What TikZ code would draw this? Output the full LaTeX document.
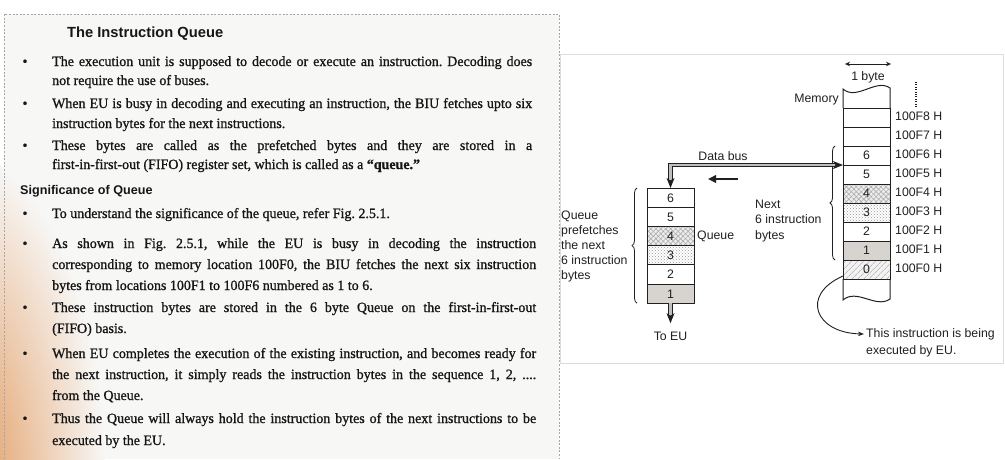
\documentclass[tikz,border=0pt]{standalone}
\usepackage{fontspec}
\setmainfont{Liberation Serif}[FakeBold=1,FakeStretch=0.985]
\newfontfamily\diafont{Liberation Sans}
\usetikzlibrary{patterns,patterns.meta,decorations.pathreplacing,arrows.meta,calc}
\definecolor{ink}{HTML}{161616}
\definecolor{lineink}{HTML}{202020}
\definecolor{paper}{HTML}{F7F7F6}
\definecolor{tanc}{RGB}{224,146,82}
\definecolor{cellgray}{RGB}{215,211,207}
\definecolor{framec}{HTML}{DCDCDC}
\frenchspacing
\begin{document}
\begin{tikzpicture}[x=1pt,y=-1pt,
  body/.style={font=\fontsize{14.2}{16}\selectfont, text=ink, inner sep=0pt, anchor=base west},
  bul/.style={font=\fontsize{14.2}{16}\selectfont, text=ink, inner sep=0pt, anchor=base},
  head/.style={font=\diafont\bfseries\fontsize{12.6}{15}\selectfont, text=ink, inner sep=0pt, anchor=base west},
  ttl/.style={font=\diafont\bfseries\fontsize{14.7}{17}\selectfont, text=ink, inner sep=0pt, anchor=base west},
  lab/.style={font=\diafont\fontsize{12.3}{15}\selectfont, text=lineink, inner sep=0pt, text height=8.8pt, text depth=2.5pt},
  cell/.style={draw=lineink, line width=1pt, minimum width=47pt, minimum height=19pt, inner sep=0pt, outer sep=0pt, anchor=north west, font=\diafont\fontsize{12.3}{15}\selectfont, text=lineink, text height=8.8pt, text depth=0pt},
  qcell/.style={cell, minimum height=19.2pt},
  pat4/.style={preaction={fill=gray!14}, preaction={pattern={Lines[angle=45,distance=3.5pt,line width=0.6pt]}, pattern color=gray!65}, pattern={Lines[angle=-45,distance=3.5pt,line width=0.6pt]}, pattern color=gray!65},
  pat3/.style={preaction={fill=white}, pattern=crosshatch dots, pattern color=gray!80},
  pat1/.style={fill=cellgray},
  pat0/.style={preaction={fill=gray!10}, pattern={Lines[angle=45,distance=4pt,line width=0.5pt]}, pattern color=gray!75},
  wire/.style={draw=lineink, line width=1pt},
  rail/.style={draw=lineink, line width=0.9pt},
  band/.style={fill=gray!50},
  headfill/.style={fill=lineink},
  bracestyle/.style={draw=lineink, line width=0.8pt, decorate, decoration={brace, amplitude=5pt}}
]
\useasboundingbox (0,0) rectangle (1005,459);
\fill[white] (0,0) rectangle (1005,459);
\fill[paper] (4,14) rectangle (559,459);
\begin{scope}
  \clip (0,14) rectangle (559,459);
  \shade[inner color=tanc, outer color=paper] (-45,480) ellipse (150 and 330);
\end{scope}
\draw[gray!70, line width=0.7pt, dash pattern=on 2pt off 1.6pt] (4,459) -- (4,14) -- (559,14) -- (559,459);

% ---------------- left text ----------------
\node[ttl] (title) at (67,37.5) {The Instruction Queue};

\node[bul] (b1) at (25,66) {•};
\node[body] (t1) at (52,66) {\makebox[480pt][s]{The execution unit is supposed to decode or execute an instruction. Decoding does}};
\node[body] (t2) at (52,85) {not require the use of buses.};
\node[bul] (b2) at (25,108) {•};
\node[body] (t3) at (52,108) {\makebox[480pt][s]{When EU is busy in decoding and executing an instruction, the BIU fetches upto six}};
\node[body] (t4) at (52,128) {instruction bytes for the next instructions.};
\node[bul] (b3) at (25,150) {•};
\node[body] (t5) at (52,150) {\makebox[480pt][s]{These bytes are called as the prefetched bytes and they are stored in a}};
\node[body] (t6) at (52,169) {first-in-first-out (FIFO) register set, which is called as a \textbf{“queue.”}};

\node[head] (sig) at (20,194.5) {Significance of Queue};

\node[bul] (b4) at (25,218) {•};
\node[body] (t8) at (52,218) {To understand the significance of the queue, refer Fig. 2.5.1.};
\node[bul] (b5) at (25,248) {•};
\node[body] (t9) at (52,248) {\makebox[484pt][s]{As shown in Fig. 2.5.1, while the EU is busy in decoding the instruction}};
\node[body] (t10) at (52,269) {\makebox[484pt][s]{corresponding to memory location 100F0, the BIU fetches the next six instruction}};
\node[body] (t11) at (52,290) {bytes from locations 100F1 to 100F6 numbered as 1 to 6.};
\node[bul] (b6) at (25,312) {•};
\node[body] (t12) at (52,312) {\makebox[484pt][s]{These instruction bytes are stored in the 6 byte Queue on the first-in-first-out}};
\node[body] (t13) at (52,333) {(FIFO) basis.};
\node[bul] (b7) at (25,358) {•};
\node[body] (t14) at (52,358) {\makebox[484pt][s]{When EU completes the execution of the existing instruction, and becomes ready for}};
\node[body] (t15) at (52,379) {\makebox[484pt][s]{the next instruction, it simply reads the instruction bytes in the sequence 1, 2, ....}};
\node[body] (t16) at (52,400) {from the Queue.};
\node[bul] (b8) at (25,423) {•};
\node[body] (t17) at (52,423) {\makebox[484pt][s]{Thus the Queue will always hold the instruction bytes of the next instructions to be}};
\node[body] (t18) at (52,445) {executed by the EU.};

% ---------------- right panel ----------------
\fill[white] (560,54) rectangle (1003,363);
\draw[framec, line width=0.8pt] (560,54) rectangle (1003,363);

% memory column
\node[cell] (mF8) at (843,108) {};
\node[cell] (mF7) at (843,127) {};
\node[cell] (m6) at (843,146) {6};
\node[cell] (m5) at (843,165) {5};
\node[cell, pat4] (m4) at (843,184) {4};
\node[cell, pat3] (m3) at (843,203) {3};
\node[cell] (m2) at (843,222) {2};
\node[cell, pat1] (m1) at (843,241) {1};
\node[cell, pat0] (m0) at (843,260) {0};
\coordinate (mtl) at ($(mF8.north west)+(0,-19)$);
\coordinate (mtr) at ($(mF8.north east)+(0,-20)$);
\coordinate (mbl) at ($(m0.south west)+(0,21)$);
\coordinate (mbr) at ($(m0.south east)+(0,20)$);
\draw[wire] (mF8.north west) -- (mtl) .. controls +(14,12) and +(-14,-10) .. (mtr) -- (mF8.north east);
\draw[wire] (m0.south west) -- (mbl) .. controls +(14,-12) and +(-14,10) .. (mbr) -- (m0.south east);

% addresses
\foreach \n/\a in {mF8/100F8 H, mF7/100F7 H, m6/100F6 H, m5/100F5 H, m4/100F4 H, m3/100F3 H, m2/100F2 H, m1/100F1 H, m0/100F0 H}
  \node[lab, anchor=west] (a\n) at ($(\n.east)+(5,0)$) {\a};

\node[lab, anchor=east] (memlab) at ($(mF8.north west)+(-4,-9)$) {Memory};

% 1 byte
\coordinate (byL) at ($(mtl)+(2,-25)$);
\coordinate (byR) at ($(mtr)+(1,-24)$);
\draw[lineink, line width=0.8pt, {Stealth[length=5pt,width=4.5pt]}-{Stealth[length=5pt,width=4.5pt]}] (byL) -- (byR);
\node[lab] (bytelab) at ($(byL)!0.5!(byR)+(0,13)$) {1 byte};

% dotted continuation
\coordinate (dotT) at (916,82);
\coordinate (dotB) at (916,107);
\draw[lineink, line width=1.3pt, dash pattern=on 1pt off 1.4pt] (dotT) -- (dotB);

% queue column
\node[qcell] (q6) at (647,188) {6};
\node[qcell] (q5) at (647,207.2) {5};
\node[qcell, pat4] (q4) at (647,226.4) {4};
\node[qcell, pat3] (q3) at (647,245.6) {3};
\node[qcell] (q2) at (647,264.8) {2};
\node[qcell, pat1] (q1) at (647,284) {1};
\node[lab, anchor=west] (queuelab) at ($(q4.east)+(3,0)$) {Queue};

% braces
\draw[bracestyle] ($(q1.south west)+(-10,0)$) -- ($(q6.north west)+(-10,0)$);
\draw[bracestyle] ($(m1.south west)+(-8,0)$) -- ($(m6.north west)+(-8,0)$);

% left labels
\node[lab, anchor=west] (ql1) at (561,216) {Queue};
\node[lab, anchor=west] (ql2) at (561,231.2) {prefetches};
\node[lab, anchor=west] (ql3) at (561,246.4) {the next};
\node[lab, anchor=west] (ql4) at (561,261.6) {6 instruction};
\node[lab, anchor=west] (ql5) at (561,276.8) {bytes};

% next labels
\node[lab, anchor=west] (nl1) at (755,205) {Next};
\node[lab, anchor=west] (nl2) at (755,220.5) {6 instruction};
\node[lab, anchor=west] (nl3) at (755,236) {bytes};

% data bus (double rail from memory row 6/5 boundary to queue top)
\node[lab] (buslab) at (723,157) {Data bus};
\coordinate (busC) at (q6.north |- m6.south west);
\fill[band] ($(m6.south west)+(-8,-1.9)$) -- ($(busC)+(-1.9,-1.9)$) -- ($(q6.north)+(-1.9,-7)$) -- ($(q6.north)+(1.9,-7)$) -- ($(busC)+(1.9,1.9)$) -- ($(m6.south west)+(-8,1.9)$) -- cycle;
\draw[rail] ($(m6.south west)+(-8,-1.9)$) -- ($(busC)+(-1.9,-1.9)$) -- ($(q6.north)+(-1.9,-7)$);
\draw[rail] ($(m6.south west)+(-8,1.9)$) -- ($(busC)+(1.9,1.9)$) -- ($(q6.north)+(1.9,-7)$);
\fill[headfill] (m6.south west) -- ++(-10,-4) -- ++(2.5,4) -- ++(-2.5,4) -- cycle;
\fill[headfill] (q6.north) -- ++(-4,-10) -- ++(4,2.5) -- ++(4,-2.5) -- cycle;

% direction arrow
\coordinate (sa1) at (738,179);
\coordinate (sa2) at (708,179);
\draw[lineink, line width=2.2pt, -{Triangle[length=8pt,width=7.5pt]}] (sa1) -- (sa2);

% to EU
\node[lab] (toeu) at ($(q1.south)+(0,34)$) {To EU};
\coordinate (euTip) at ($(q1.south)+(0,20)$);
\fill[band] ($(q1.south)+(-1.9,0)$) rectangle ($(q1.south)+(1.9,12.5)$);
\draw[rail] ($(q1.south)+(-1.9,0)$) -- ++(0,12.5);
\draw[rail] ($(q1.south)+(1.9,0)$) -- ++(0,12.5);
\fill[headfill] (euTip) -- ++(-4,-10) -- ++(4,2.5) -- ++(4,-2.5) -- cycle;

% executing note
\node[lab, anchor=west] (ex1) at (866,334) {This instruction is being};
\node[lab, anchor=west] (ex2) at (866,351) {executed by EU.};
\draw[lineink, line width=0.9pt, -{Stealth[length=6pt,width=4.5pt]}] ($(m0.south west)+(0,-3)$) .. controls +(-43,19) and +(-49,-1) .. ($(ex1.west)+(-2,0)$);
\end{tikzpicture}
\end{document}
